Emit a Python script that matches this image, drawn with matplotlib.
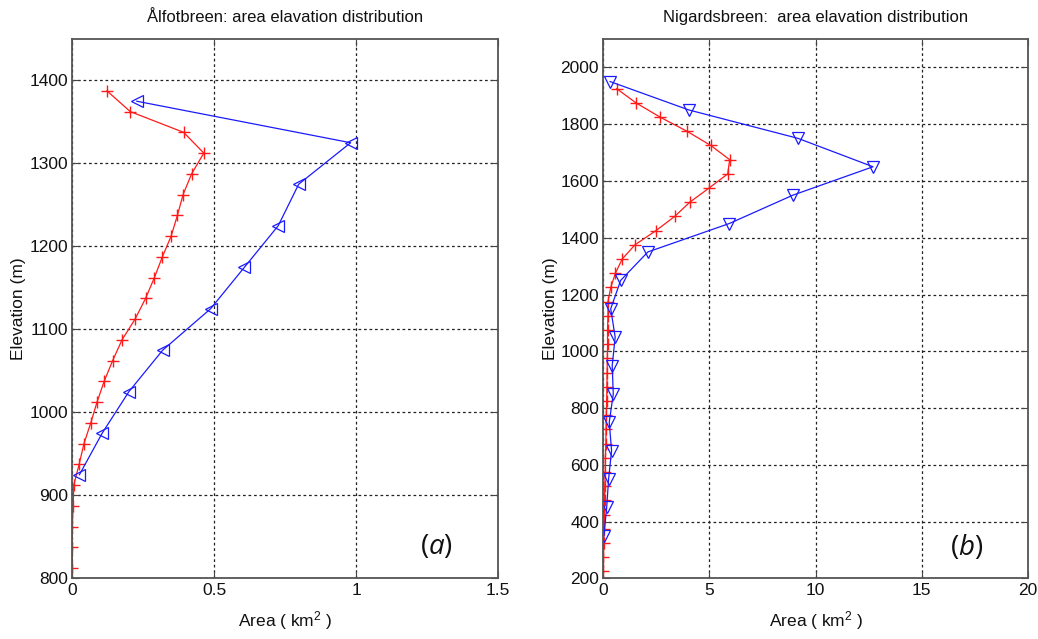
import matplotlib
matplotlib.use("Agg")
import matplotlib.pyplot as plt

# ---------------- data ----------------
# Ålfotbreen (a)
alf_red_elev = [1387.5 - 25 * i for i in range(24)]
alf_red_area = [0.123, 0.205, 0.393, 0.464, 0.421, 0.391, 0.371, 0.349, 0.318, 0.290,
                0.259, 0.222, 0.176, 0.143, 0.113, 0.088, 0.066, 0.042, 0.025, 0.006,
                0.004, 0.001, 0.0, 0.0]
alf_blue_elev = [1375, 1325, 1275, 1225, 1175, 1125, 1075, 1025, 975, 925]
alf_blue_area = [0.228, 0.981, 0.798, 0.726, 0.607, 0.488, 0.319, 0.200, 0.106, 0.026]

# Nigardsbreen (b)
nig_red_elev = [1925 - 50 * i for i in range(35)]
nig_red_area = [0.63, 1.54, 2.67, 3.94, 5.06, 5.95, 5.86, 4.98, 4.07, 3.36,
                2.48, 1.49, 0.89, 0.57, 0.35, 0.22, 0.22, 0.20, 0.20, 0.19,
                0.18, 0.17, 0.16, 0.14, 0.13, 0.12, 0.10, 0.09, 0.07, 0.06,
                0.05, 0.04, 0.02, 0.01, 0.01]
nig_blue_elev = [1950 - 100 * i for i in range(17)]
nig_blue_area = [0.32, 4.03, 9.17, 12.70, 8.93, 5.93, 2.10, 0.82, 0.35, 0.56,
                 0.42, 0.47, 0.28, 0.39, 0.25, 0.16, 0.03]

titles = ["Ålfotbreen: area elavation distribution",
          "Nigardsbreen:  area elavation distribution"]
panel_labels = ["a", "b"]
xticks_a = [0, 0.5, 1, 1.5]
xticklabels_a = ["0", "0.5", "1", "1.5"]
yticks_a = [800, 900, 1000, 1100, 1200, 1300, 1400]
xticks_b = [0, 5, 10, 15, 20]
yticks_b = list(range(200, 2001, 200))

# ---------------- fonts ----------------
plt.rcParams["font.family"] = ["Liberation Sans", "DejaVu Sans"]
plt.rcParams["mathtext.fontset"] = "custom"
plt.rcParams["mathtext.rm"] = "Liberation Sans"
plt.rcParams["mathtext.it"] = "Open Sans:italic"

fig = plt.figure(figsize=(10.38, 6.39), dpi=100)
axA = fig.add_axes([0.0694, 0.0947, 0.4104, 0.8443])
axB = fig.add_axes([0.5812, 0.0947, 0.4092, 0.8443])

RED = "#ff1a1a"
BLUE = "#1a1aff"


def style(ax, xlim, ylim, xticks, yticks, xtl=None):
    ax.set_xlim(*xlim)
    ax.set_ylim(*ylim)
    ax.set_xticks(xticks)
    if xtl is not None:
        ax.set_xticklabels(xtl)
    ax.set_yticks(yticks)
    ax.grid(True, color="#222222", linestyle=(0, (2.2, 2.2)), linewidth=0.9)
    ax.set_axisbelow(True)
    ax.tick_params(direction="in", length=5, width=0.8, labelsize=12.5,
                   top=True, right=True, colors="#444444", labelcolor="#111111", pad=3)
    for s in ax.spines.values():
        s.set_color("#555555")
        s.set_linewidth(1.3)
    ax.set_xlabel("Area ( km$^2$ )", fontsize=12.5, labelpad=8, color="#111111")
    ax.set_ylabel("Elevation (m)", fontsize=12.5, labelpad=2, color="#111111")


# Panel a
axA.plot(alf_red_area, alf_red_elev, color=RED, marker="+", markersize=9,
         markeredgewidth=1.0, linewidth=0.9)
axA.plot(alf_blue_area, alf_blue_elev, color=BLUE, marker="<", markersize=9,
         markerfacecolor="none", markeredgewidth=0.9, linewidth=0.9)
style(axA, (0, 1.5), (800, 1450), xticks_a, yticks_a, xticklabels_a)
axA.set_title(titles[0], fontsize=12, pad=12, color="#111111")

# Panel b
axB.plot(nig_red_area, nig_red_elev, color=RED, marker="+", markersize=9,
         markeredgewidth=1.0, linewidth=0.9)
axB.plot(nig_blue_area, nig_blue_elev, color=BLUE, marker="v", markersize=9,
         markerfacecolor="none", markeredgewidth=0.9, linewidth=0.9)
style(axB, (0, 20), (200, 2100), xticks_b, yticks_b)
axB.set_title(titles[1], fontsize=12, pad=12, color="#111111")

for ax, lab in zip([axA, axB], panel_labels):
    ax.text(0.855, 0.058, "($\\mathit{" + lab + "}$)", transform=ax.transAxes,
            fontsize=20, ha="center", va="center",
            family=["Open Sans", "DejaVu Sans"], color="#111111")

fig.savefig("out.png", dpi=100)
